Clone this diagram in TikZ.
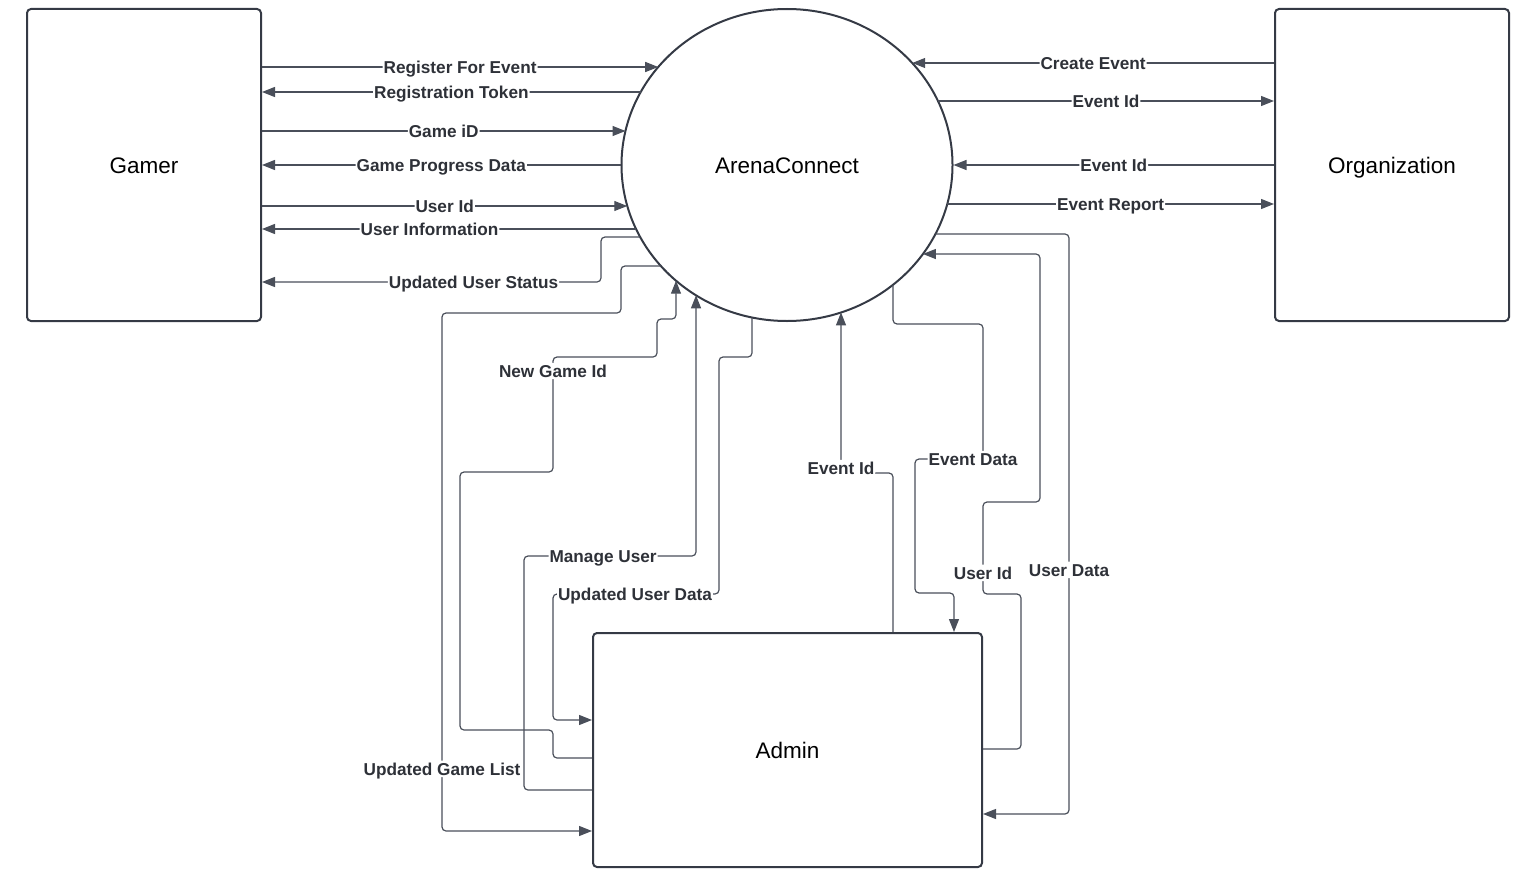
\documentclass[tikz,border=0pt]{standalone}
\usepackage{fontspec}
\setmainfont{Liberation Sans}
\usetikzlibrary{arrows.meta,shapes.geometric,calc}
\definecolor{lc}{HTML}{4A4F5A}
\definecolor{bc}{HTML}{353A45}
\definecolor{tc}{HTML}{2E3138}
\begin{document}
\begin{tikzpicture}[x=1pt,y=-1pt,
  ent/.style={draw=bc,line width=2pt,rounded corners=4pt,rectangle,inner sep=0pt,
    text height=16.2pt,text depth=0pt,font=\fontsize{22.5}{26}\selectfont,text=black},
  proc/.style={draw=bc,line width=2pt,ellipse,minimum width=331pt,minimum height=312pt,
    inner sep=0pt,text height=16.2pt,text depth=0pt,font=\fontsize{22.5}{26}\selectfont,text=black},
  flow/.style={draw=lc,line width=1.2pt,rounded corners=4pt,-{Triangle[length=13pt,width=10pt]}},
  lbl/.style={fill=white,inner xsep=1pt,inner ysep=2pt,text height=12.4pt,text depth=0pt,
    font=\bfseries\fontsize{17.2}{20}\selectfont,text=tc}]
\useasboundingbox (0,0) rectangle (1533,883);

\node[ent,minimum width=234pt,minimum height=312pt] (gamer) at (144,165) {Gamer};
\node[ent,minimum width=234pt,minimum height=312pt] (org) at (1392,165) {Organization};
\node[ent,minimum width=389pt,minimum height=234pt] (admin) at (787.5,750) {Admin};
\node[proc] (ac) at (787,165) {ArenaConnect};

% Gamer <-> ArenaConnect
\draw[flow] (gamer.east |- 0,67) -- node[lbl]{Register For Event} ($(ac.center)+(-128.8,-98)$);
\draw[flow] ($(ac.center)+(-146.3,-73)$) -- node[lbl]{Registration Token} (gamer.east |- 0,92);
\draw[flow] (gamer.east |- 0,131) -- node[lbl]{Game iD} ($(ac.center)+(-161.5,-34)$);
\draw[flow] (ac.west) -- node[lbl]{Game Progress Data} (gamer.east);
\draw[flow] (gamer.east |- 0,206) -- node[lbl]{User Id} ($(ac.center)+(-159.7,41)$);
\draw[flow] ($(ac.center)+(-151,64)$) -- node[lbl,pos=.552]{User Information} (gamer.east |- 0,229);
\draw[flow] ($(ac.center)+(-146.8,72)$) -- (601,237) -- (601,282)
  -- node[lbl,pos=.376]{Updated User Status} (gamer.east |- 0,282);

% ArenaConnect <-> Admin (left side)
\draw[flow] ($(ac.center)+(-126.2,101)$) -- (621,266) -- (621,313) -- (442,313)
  -- node[lbl,pos=.88]{Updated Game List} (442,831) -- (admin.west |- 0,831);
\draw[flow] (admin.west |- 0,758) -- (553,758) -- (553,730) -- (460,730) -- (460,472) -- (553,472)
  -- node[lbl,pos=.878]{New Game Id} (553,357) -- (657,357) -- (657,319) -- (676,319)
  -- ($(ac.center)+(-111,115.7)$);
\draw[flow] (admin.west |- 0,790) -- (524,790) -- (524,556)
  -- node[lbl,pos=.46]{Manage User} (696,556) -- ($(ac.center)+(-91,130.3)$);
\draw[flow] ($(ac.center)+(-35,152.5)$) -- (752,357) -- (719,357) -- (719,594)
  -- node[lbl,pos=.506]{Updated User Data} (553,594) -- (553,720) -- (admin.west |- 0,720);

% ArenaConnect <-> Admin (right side)
\draw[flow] (admin.north -| 893,0) -- (893,473) -- (841,473)
  -- node[lbl,pos=.03]{Event Id} ($(ac.center)+(54,147.4)$);
\draw[flow] ($(ac.center)+(106,119.8)$) -- (893,324) -- (983,324) -- (983,459)
  -- node[lbl,pos=.147]{Event Data} (915,459) -- (915,593) -- (954,593) -- (admin.north -| 954,0);
\draw[flow] (admin.east |- 0,749) -- (1021,749) -- (1021,594) -- (983,594)
  -- node[lbl,pos=.23]{User Id} (983,502) -- (1040,502) -- (1040,254) -- ($(ac.center)+(135.9,89)$);
\draw[flow] ($(ac.center)+(148.4,69)$) -- (1069,234)
  -- node[lbl,pos=.579]{User Data} (1069,814) -- (admin.east |- 0,814);

% Organization <-> ArenaConnect
\draw[flow] (org.west |- 0,63) -- node[lbl]{Create Event} ($(ac.center)+(125.2,-102)$);
\draw[flow] ($(ac.center)+(151,-64)$) -- node[lbl]{Event Id} (org.west |- 0,101);
\draw[flow] (org.west) -- node[lbl]{Event Id} (ac.east);
\draw[flow] ($(ac.center)+(160.2,39)$) -- node[lbl]{Event Report} (org.west |- 0,204);
\end{tikzpicture}
\end{document}
